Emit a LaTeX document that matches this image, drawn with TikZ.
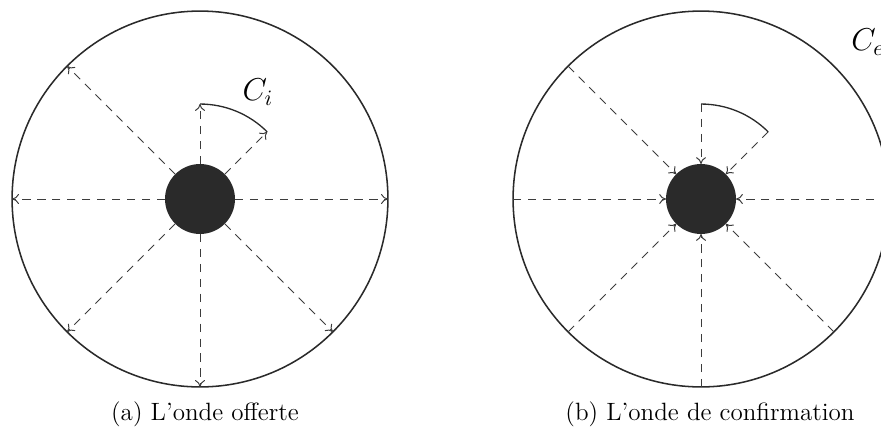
\documentclass[tikz,border=0pt]{standalone}
\usepackage{xcolor}
\usetikzlibrary{arrows.meta}
\definecolor{inkdark}{RGB}{42, 42, 42}
\definecolor{dashgray}{RGB}{60, 60, 60}

\begin{document}
\begin{tikzpicture}[
  x=0.016cm, y=-0.016cm,
  ring/.style = {circle, draw=inkdark, line width=0.7pt, minimum size=6.016cm, inner sep=0pt, outer sep=0pt},
  source/.style = {circle, fill=inkdark, minimum size=1.12cm, inner sep=0pt, outer sep=0pt},
  front/.style = {circle, minimum size=3.04cm, inner sep=0pt, outer sep=0pt},
  arr/.style = {-{To[length=1.1mm, width=1.6mm]}, dash pattern=on 3.8pt off 3pt, line width=0.45pt, draw=dashgray},
  arcline/.style = {line width=0.6pt, draw=inkdark},
  lbl/.style = {font=\Large, inner sep=1pt},
  captxt/.style = {font=\fontsize{11.4}{13}\selectfont, inner sep=1pt}
]
\useasboundingbox (0,0) rectangle (881,431);
\clip (0,0) rectangle (881,431);

% ---- (a) offered wave ----
\node[ring]   (ringA) at (200,199) {};
\node[front]  (waveA) at (200,199) {};
\node[source] (srcA)  at (200,199) {};

\draw[arr] (srcA.0)   -- (ringA.0);
\draw[arr] (srcA.135) -- (ringA.135);
\draw[arr] (srcA.180) -- (ringA.180);
\draw[arr] (srcA.225) -- (ringA.225);
\draw[arr] (srcA.270) -- (ringA.270);
\draw[arr] (srcA.315) -- (ringA.315);
\draw[arr] (srcA.90)  -- (waveA.90);
\draw[arr] (srcA.45)  -- (waveA.45);
\draw[arcline] (waveA.90) arc[start angle=-90, end angle=-45, radius=95];

\node[lbl] (labA) at (258,92) {$C_i$};
\node[captxt] (capA) at (205,414) {(a) L'onde offerte};

% ---- (b) confirmation wave ----
\node[ring]   (ringB) at (701,199) {};
\node[front]  (waveB) at (701,199) {};
\node[source] (srcB)  at (701,199) {};

\draw[arr] (ringB.0)   -- (srcB.0);
\draw[arr] (ringB.135) -- (srcB.135);
\draw[arr] (ringB.180) -- (srcB.180);
\draw[arr] (ringB.225) -- (srcB.225);
\draw[arr] (ringB.270) -- (srcB.270);
\draw[arr] (ringB.315) -- (srcB.315);
\draw[arr] (waveB.90)  -- (srcB.90);
\draw[arr] (waveB.45)  -- (srcB.45);
\draw[arcline] (waveB.90) arc[start angle=-90, end angle=-45, radius=95];

\node[lbl] (labB) at (868,42) {$C_e$};
\node[captxt] (capB) at (710,414) {(b) L'onde de confirmation};

\end{tikzpicture}
\end{document}
